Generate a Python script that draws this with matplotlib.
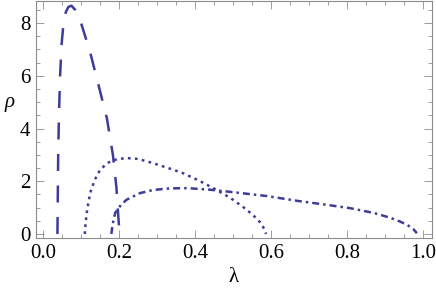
import matplotlib
matplotlib.use("Agg")
import matplotlib.pyplot as plt
from matplotlib.ticker import MultipleLocator

# curve values (lambda, rho)
lam_dashed = [0.038, 0.039, 0.040, 0.042, 0.045, 0.049, 0.054, 0.060, 0.067, 0.075,
              0.085, 0.097, 0.110, 0.124, 0.147, 0.168, 0.184, 0.193, 0.198, 0.200]
rho_dashed = [0.0, 1.5, 3.0, 4.5, 6.0, 7.2, 8.0, 8.42, 8.62, 8.66,
              8.5, 8.15, 7.55, 6.9, 5.6, 4.4, 3.0, 1.8, 0.7, 0.3]

lam_dotted = [0.110, 0.112, 0.116, 0.124, 0.136, 0.150, 0.170, 0.195, 0.220, 0.250,
              0.282, 0.330, 0.368, 0.410, 0.457, 0.495, 0.527, 0.552, 0.571, 0.582, 0.587]
rho_dotted = [0.0, 0.4, 0.9, 1.55, 2.05, 2.43, 2.7, 2.84, 2.88, 2.85,
              2.72, 2.5, 2.31, 2.03, 1.67, 1.35, 1.02, 0.73, 0.45, 0.2, 0.0]

lam_dashdot = [0.180, 0.183, 0.190, 0.205, 0.220, 0.255, 0.290, 0.334, 0.380, 0.440,
               0.492, 0.589, 0.668, 0.740, 0.808, 0.870, 0.913, 0.940, 0.958, 0.975, 0.984]
rho_dashdot = [0.0, 0.35, 0.8, 1.1, 1.3, 1.55, 1.67, 1.73, 1.74, 1.68,
               1.6, 1.44, 1.26, 1.12, 0.98, 0.8, 0.62, 0.47, 0.35, 0.18, 0.03]

xticks = [0.0, 0.2, 0.4, 0.6, 0.8, 1.0]
yticks = [0, 2, 4, 6, 8]

color = "#3d3d99"
gray = "#8c8c8c"

plt.rcParams["font.family"] = ["Liberation Serif", "DejaVu Serif"]

fig = plt.figure(figsize=(4.36, 2.97), dpi=100)
ax = fig.add_axes([36/436, 1 - 238/297, 396/436, 237/297])

lw = 1.8
ax.plot(lam_dashed, rho_dashed, color=color, lw=lw, dashes=(6.8, 5.8))
ax.plot(lam_dotted, rho_dotted, color=color, lw=lw, dashes=(1.1, 1.7))
ax.plot(lam_dashdot, rho_dashdot, color=color, lw=lw, dashes=(2.8, 1.6, 1.0, 1.6))

ax.set_xlim(-0.0184, 1.0237)
ax.set_ylim(-0.152, 8.84)
ax.set_xticks(xticks)
ax.set_xticklabels(["%.1f" % v for v in xticks])
ax.set_yticks(yticks)
ax.xaxis.set_minor_locator(MultipleLocator(0.05))
ax.yaxis.set_minor_locator(MultipleLocator(0.5))

for s in ax.spines.values():
    s.set_color(gray)
    s.set_linewidth(0.8)
ax.tick_params(which="both", direction="in", top=True, right=True, color=gray,
               labelsize=15, width=0.6)
ax.tick_params(which="major", length=6, pad=4)
ax.tick_params(which="minor", length=3)

ax.set_xlabel("λ", fontsize=15)
ax.xaxis.set_label_coords(0.5, -0.125)
ax.set_ylabel("ρ", fontsize=15, rotation=0, style="italic")
ax.yaxis.set_label_coords(-0.066, 0.53)

fig.savefig("out.png", dpi=100)
